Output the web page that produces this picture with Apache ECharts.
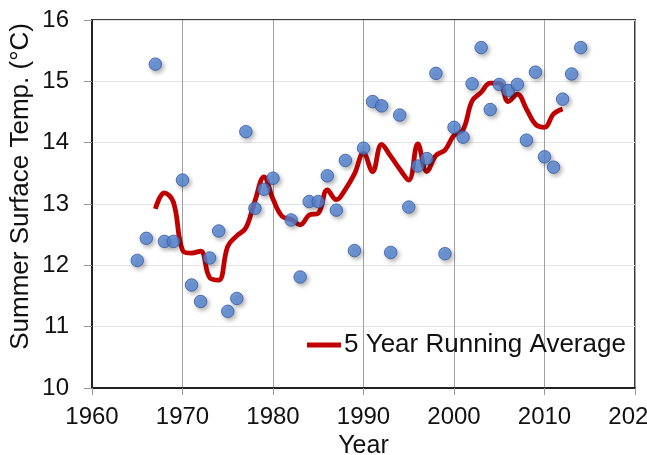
<!DOCTYPE html>
<html>
<head>
<meta charset="utf-8">
<style>
  html, body { margin: 0; padding: 0; background: #ffffff; }
  #chart { width: 647px; height: 455px; }
</style>
<script src="https://cdn.jsdelivr.net/npm/echarts@6/dist/echarts.min.js"></script>
</head>
<body>
<div id="chart"></div>
<script>
// Annual summer surface temperature observations (no record for 1981)
const obsYears = [
  1965, 1966, 1967, 1968, 1969, 1970, 1971, 1972, 1973, 1974,
  1975, 1976, 1977, 1978, 1979, 1980, 1982, 1983, 1984, 1985,
  1986, 1987, 1988, 1989, 1990, 1991, 1992, 1993, 1994, 1995,
  1996, 1997, 1998, 1999, 2000, 2001, 2002, 2003, 2004, 2005,
  2006, 2007, 2008, 2009, 2010, 2011, 2012, 2013, 2014
];
const obsTemps = [
  12.08, 12.44, 15.28, 12.39, 12.39, 13.39, 11.68, 11.41, 12.12, 12.56,
  11.25, 11.46, 14.18, 12.93, 13.24, 13.42, 12.74, 11.81, 13.04, 13.04,
  13.46, 12.90, 13.71, 12.24, 13.91, 14.67, 14.60, 12.21, 14.45, 12.95,
  13.62, 13.74, 15.13, 12.19, 14.25, 14.09, 14.96, 15.55, 14.54, 14.95,
  14.85, 14.95, 14.04, 15.15, 13.77, 13.60, 14.71, 15.12, 15.55
];

// Centred five-year running average
const avgYears = [
  1967, 1968, 1969, 1970, 1971, 1972, 1973, 1974, 1975, 1976,
  1977, 1978, 1979, 1980, 1981, 1982, 1983, 1984, 1985, 1986,
  1987, 1988, 1989, 1990, 1991, 1992, 1993, 1994, 1995, 1996,
  1997, 1998, 1999, 2000, 2001, 2002, 2003, 2004, 2005, 2006,
  2007, 2008, 2009, 2010, 2011, 2012
];
const avgTemps = [
  12.92, 13.18, 13.03, 12.25, 12.20, 12.23, 11.80, 11.76, 12.31, 12.48,
  12.61, 13.05, 13.44, 13.08, 12.80, 12.75, 12.66, 12.82, 12.85, 13.23,
  13.07, 13.24, 13.49, 13.83, 13.53, 13.97, 13.78, 13.57, 13.39, 13.98,
  13.53, 13.79, 13.88, 14.12, 14.21, 14.68, 14.82, 14.97, 14.97, 14.67,
  14.79, 14.55, 14.30, 14.25, 14.47, 14.55
];

const xTicks = { min: 1960, max: 2020, step: 10 };
const yTicks = { min: 10, max: 16, step: 1 };

const obsData = obsYears.map((y, i) => [y, obsTemps[i]]);
const avgData = avgYears.map((y, i) => [y, avgTemps[i]]);

const FONT = '"Liberation Sans", Arial, sans-serif';
const chart = echarts.init(document.getElementById('chart'), null, { renderer: 'canvas' });

chart.setOption({
  animation: false,
  backgroundColor: '#ffffff',
  textStyle: { fontFamily: FONT, color: '#111' },
  grid: {
    left: 92, right: 12, top: 20, bottom: 67,
    outerBoundsMode: 'none',
    containLabel: false,
    show: true, borderColor: '#3a3a3a', borderWidth: 2, backgroundColor: 'transparent'
  },
  legend: {
    data: ['5 Year Running Average'],
    left: 307, top: 332,
    itemWidth: 34, itemHeight: 5, itemGap: 0,
    padding: 0,
    icon: 'rect',
    textStyle: { fontFamily: FONT, fontSize: 26, color: '#111', padding: [0, 0, 0, -2] },
    backgroundColor: 'transparent'
  },
  xAxis: {
    type: 'value',
    min: xTicks.min, max: xTicks.max, interval: xTicks.step,
    name: 'Year', nameLocation: 'middle', nameGap: 37,
    nameTextStyle: { fontFamily: FONT, fontSize: 25, color: '#111' },
    axisLine: { show: true, onZero: false, lineStyle: { color: '#222', width: 2 } },
    axisTick: { show: true, inside: false, length: 7, lineStyle: { color: '#999' } },
    axisLabel: { fontFamily: FONT, fontSize: 24, color: '#111', margin: 17, formatter: v => String(v) },
    splitLine: { show: true, lineStyle: { color: '#a0a0a0', width: 1 } }
  },
  yAxis: {
    type: 'value',
    min: yTicks.min, max: yTicks.max, interval: yTicks.step,
    axisLine: { show: true, onZero: false, lineStyle: { color: '#222', width: 2 } },
    axisTick: { show: true, inside: false, length: 8, lineStyle: { color: '#999' } },
    axisLabel: { fontFamily: FONT, fontSize: 24, color: '#111', margin: 23 },
    splitLine: { show: true, lineStyle: { color: '#e4e4e4', width: 1 } }
  },
  graphic: [{
    type: 'text',
    left: 8, top: 23,
    rotation: Math.PI / 2,
    style: {
      text: 'Summer Surface Temp. (°C)',
      font: '26px ' + FONT,
      fill: '#111'
    },
    originX: 0, originY: 0
  }],
  series: [
    {
      name: '5 Year Running Average',
      type: 'line',
      data: avgData,
      smooth: 0.4,
      symbol: 'none',
      z: 2,
      lineStyle: { color: '#c00000', width: 4.8 },
      itemStyle: { color: '#c00000' }
    },
    {
      name: 'Observed',
      type: 'scatter',
      data: obsData,
      symbolSize: 12.5,
      z: 3,
      itemStyle: {
        color: '#5587d8',
        borderColor: '#34599f',
        borderWidth: 1,
        shadowBlur: 4,
        shadowColor: 'rgba(0,0,0,0.35)',
        shadowOffsetX: 2,
        shadowOffsetY: 2.5
      }
    }
  ]
});
</script>
</body>
</html>
